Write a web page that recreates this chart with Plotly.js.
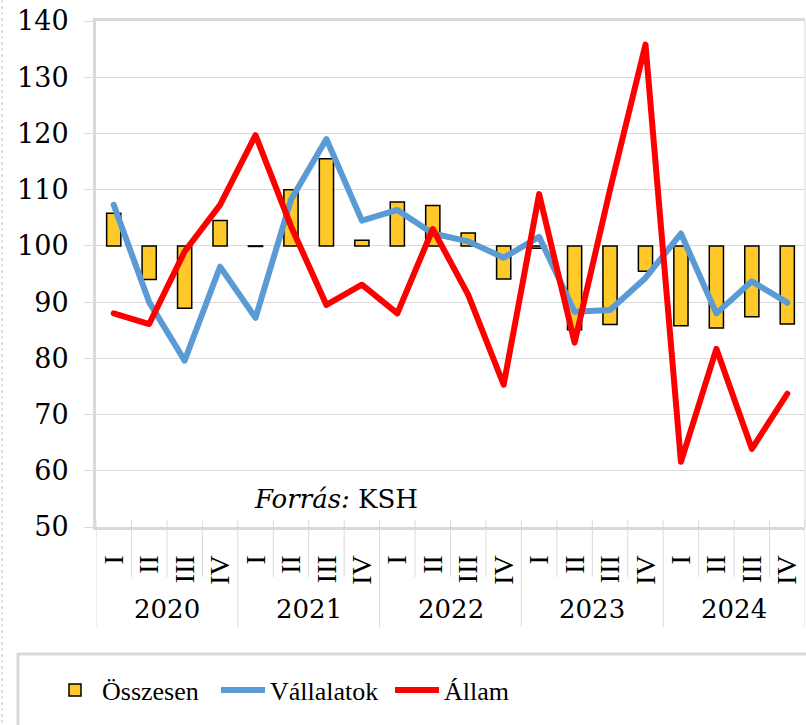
<!DOCTYPE html>
<html>
<head>
<meta charset="utf-8">
<script src="https://cdn.plot.ly/plotly-3.0.1.min.js"></script>
<style>
html,body{margin:0;padding:0;background:#fff;}
#chart{width:806px;height:725px;}
#chart .scatterlayer path.js-line{stroke-linejoin:round !important;stroke-linecap:round !important;}
</style>
</head>
<body>
<div id="chart"></div>
<script>
const years = ['2020', '2021', '2022', '2023', '2024'];
const quarters = ['I','II','III','IV','I','II','III','IV','I','II','III','IV','I','II','III','IV','I','II','III','IV'];
const osszesen = [105.8, 94.0, 88.9, 104.5, 99.9, 110.0, 115.5, 101.0, 107.8, 107.2, 102.3, 94.1, 99.6, 85.1, 86.0, 95.5, 85.8, 85.4, 87.4, 86.1];
const vallalatok = [107.3, 90.0, 79.6, 96.3, 87.2, 108.2, 119.0, 104.5, 106.4, 102.2, 100.8, 97.9, 101.6, 88.3, 88.6, 94.3, 102.2, 88.0, 93.7, 89.9];
const allam = [88.0, 86.1, 99.0, 107.3, 119.7, 103.5, 89.5, 93.1, 88.0, 103.0, 91.3, 75.3, 109.2, 82.8, 110.0, 135.8, 61.6, 81.7, 63.9, 73.7];
const baseline = 100;

const idx = quarters.map((q, i) => i);
const serif = 'DejaVu Serif, serif';
const grid = '#D9D9D9';

// pixel helpers for paper coordinates (plot area: x 96..805, y 21..527)
const PL = 96, PW = 709, PT = 21, PH = 506;
const px = v => (v - PL) / PW;
const py = v => (PT + PH - v) / PH;

const traces = [
  {
    type: 'bar', name: 'Összesen', x: idx, legend: 'legend',
    y: osszesen.map(v => v - baseline), base: baseline,
    width: 0.4,
    marker: {color: '#FFC929', line: {color: '#000000', width: 1.5}}
  },
  {
    type: 'scatter', mode: 'lines', name: 'Vállalatok', x: idx, y: vallalatok, legend: 'legend2',
    line: {color: '#5B9BD5', width: 6}
  },
  {
    type: 'scatter', mode: 'lines', name: 'Állam', x: idx, y: allam, legend: 'legend3',
    line: {color: '#FF0000', width: 6}
  }
];

const shapes = [];
for (let b = 0; b <= quarters.length; b++) {
  const isYear = b % 4 === 0;
  shapes.push({
    type: 'line', xref: 'x', yref: 'paper',
    x0: b - 0.5, x1: b - 0.5, y0: py(520), y1: isYear ? py(627) : py(577),
    line: {color: grid, width: 1}
  });
}
// right border
shapes.push({type: 'line', xref: 'paper', yref: 'paper', x0: 1, x1: 1, y0: 0, y1: 1, line: {color: grid, width: 1}});
// legend box
shapes.push({type: 'rect', xref: 'paper', yref: 'paper', x0: px(18), x1: px(840), y0: py(654), y1: py(760),
  line: {color: grid, width: 3}, fillcolor: 'rgba(0,0,0,0)'});
// outer dotted frame edge
shapes.push({type: 'line', xref: 'paper', yref: 'paper', x0: px(2), x1: px(2), y0: py(0), y1: py(725),
  line: {color: '#B4C7D9', width: 1, dash: 'dot'}});

const annotations = years.map((y, k) => ({
  xref: 'x', yref: 'paper', x: 4 * k + 1.5, y: py(609), text: y, showarrow: false,
  font: {family: serif, size: 26, color: '#000'}, xanchor: 'center', yanchor: 'middle'
}));
annotations.push({
  xref: 'paper', yref: 'paper', x: px(336), y: py(499), text: '<i>Forrás:</i> KSH', showarrow: false,
  font: {family: serif, size: 26, color: '#000'}, xanchor: 'center', yanchor: 'middle'
});

const legFont = {family: 'Liberation Serif, serif', size: 26, color: '#000'};
const mkLegend = xpx => ({
  orientation: 'h', x: px(xpx), xanchor: 'left', y: py(690), yanchor: 'middle',
  font: legFont, bgcolor: 'rgba(0,0,0,0)', borderwidth: 0, itemwidth: 44
});

const layout = {
  width: 806, height: 725,
  margin: {l: PL, r: 806 - PL - PW, t: PT, b: 725 - PT - PH, pad: 0},
  paper_bgcolor: '#fff', plot_bgcolor: '#fff',
  showlegend: true,
  legend: mkLegend(48),
  legend2: mkLegend(216),
  legend3: mkLegend(390),
  xaxis: {
    range: [-0.5, 19.5], tickmode: 'array', tickvals: idx, ticktext: quarters,
    tickangle: -90, showgrid: false, zeroline: false,
    showline: true, linecolor: grid, linewidth: 3, mirror: true,
    ticks: '', ticklabelstandoff: 14,
    tickfont: {family: 'Liberation Serif, serif', size: 28, color: '#000'}
  },
  yaxis: {
    range: [50, 140], dtick: 10, tick0: 50,
    showgrid: true, gridcolor: grid, gridwidth: 1, zeroline: false,
    showline: true, linecolor: grid, linewidth: 3,
    ticks: 'outside', ticklen: 9, tickcolor: grid, tickwidth: 1,
    ticklabelstandoff: 10,
    tickfont: {family: serif, size: 27, color: '#000'}
  },
  shapes: shapes,
  annotations: annotations,
  bargap: 0.6
};

Plotly.newPlot('chart', traces, layout, {staticPlot: true, displayModeBar: false});
</script>
</body>
</html>
